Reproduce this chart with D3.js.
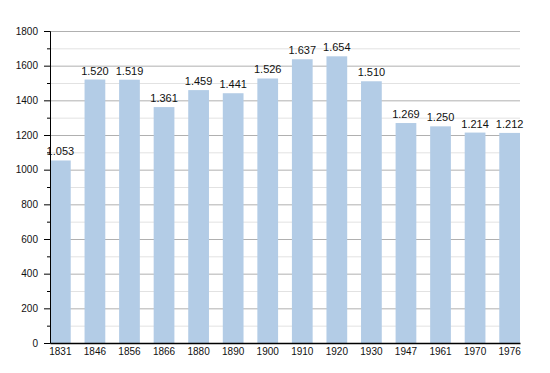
<!DOCTYPE html>
<html>
<head>
<meta charset="utf-8">
<script src="https://cdn.jsdelivr.net/npm/d3@7"></script>
<style>
  body { margin: 0; background: #fff; }
  text { font-family: "Liberation Sans", Arial, sans-serif; fill: #111; }
</style>
</head>
<body>
<div id="chart"></div>
<script>
// chart data
let years = ["1831", "1846", "1856", "1866", "1880", "1890", "1900", "1910", "1920", "1930", "1947", "1961", "1970", "1976"];
let population = [1053, 1520, 1519, 1361, 1459, 1441, 1526, 1637, 1654, 1510, 1269, 1250, 1214, 1212];
let yTicks = [0, 200, 400, 600, 800, 1000, 1200, 1400, 1600, 1800];
let yMinorTicks = [100, 300, 500, 700, 900, 1100, 1300, 1500, 1700];

let svgWidth = 550;
let svgHeight = 373;
let margin = { top: 31, right: 30, bottom: 30, left: 50 };
let width = svgWidth - margin.left - margin.right;
let height = svgHeight - margin.top - margin.bottom;

let svg = d3.select("#chart").append("svg")
    .attr("width", svgWidth)
    .attr("height", svgHeight);

let g = svg.append("g")
    .attr("transform", `translate(${margin.left}, ${margin.top})`);

let x = d3.scaleBand()
    .domain(years)
    .range([0, width])
    .paddingInner(0.4)
    .paddingOuter(0);

let y = d3.scaleLinear()
    .domain([0, 1800])
    .range([height, 0]);

// minor gridlines
g.append("g").selectAll("line")
    .data(yMinorTicks)
    .enter().append("line")
    .attr("x1", 0).attr("x2", width)
    .attr("y1", d => y(d) + 0.5).attr("y2", d => y(d) + 0.5)
    .attr("stroke", "#e2e2e2");

// major gridlines
g.append("g").selectAll("line")
    .data(yTicks.slice(1))
    .enter().append("line")
    .attr("x1", 0).attr("x2", width)
    .attr("y1", d => y(d) + 0.5).attr("y2", d => y(d) + 0.5)
    .attr("stroke", "#b0b0b0");

// bars
g.append("g").selectAll("rect")
    .data(population)
    .enter().append("rect")
    .attr("x", (d, i) => x(years[i]))
    .attr("y", d => y(d))
    .attr("width", x.bandwidth())
    .attr("height", d => height - y(d))
    .attr("fill", "#b3cce6");

// value labels (dot as thousands separator)
g.append("g").selectAll("text")
    .data(population)
    .enter().append("text")
    .attr("x", (d, i) => x(years[i]) + x.bandwidth() / 2)
    .attr("y", d => y(d) - 5)
    .attr("text-anchor", "middle")
    .style("font-size", "11px")
    .text(d => d3.format(",")(d).replace(",", "."));

// y axis
let leftAxis = d3.axisLeft(y).tickValues(yTicks).tickFormat(d3.format("d")).tickSize(6).tickPadding(6);
let yAxis = g.append("g").call(leftAxis);
yAxis.select(".domain").attr("stroke", "#000");
yAxis.selectAll(".tick text").style("font-size", "10px");

let minorAxis = d3.axisLeft(y).tickValues(yMinorTicks).tickSize(3).tickFormat("");
g.append("g").call(minorAxis).select(".domain").remove();

// x axis
let bottomAxis = d3.axisBottom(x).tickSize(0).tickPadding(5);
let xAxis = g.append("g")
    .attr("transform", `translate(0, ${height})`)
    .call(bottomAxis);
xAxis.select(".domain").attr("stroke", "#000").attr("stroke-width", 1.5);
xAxis.selectAll(".tick text").style("font-size", "10px");
</script>
</body>
</html>
